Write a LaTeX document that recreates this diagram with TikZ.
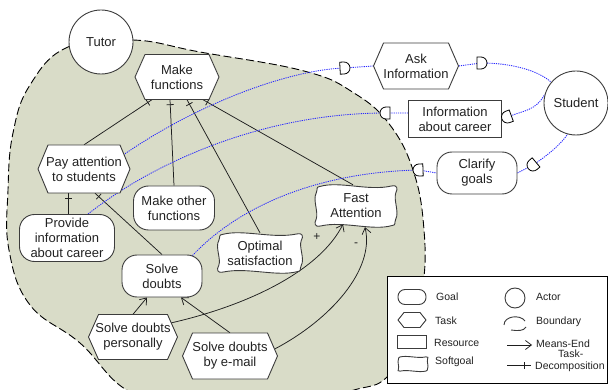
\documentclass[tikz,border=0pt]{standalone}
\usepackage{fontspec}
\setmainfont{Liberation Sans}
\usetikzlibrary{arrows.meta,decorations.markings,calc}
\definecolor{bfill}{RGB}{217,220,200}
\definecolor{edgec}{RGB}{60,60,60}
\definecolor{linkc}{RGB}{30,30,30}
\definecolor{depc}{RGB}{40,40,255}
\definecolor{txtc}{RGB}{34,34,34}
\pgfdeclarelayer{bg}
\pgfsetlayers{bg,main}
\newcommand\hexpath[5]{\draw[shapeline] (#1-#3/2,#2) -- (#1-#3/2+#5,#2-#4/2) -- (#1+#3/2-#5,#2-#4/2) -- (#1+#3/2,#2) -- (#1+#3/2-#5,#2+#4/2) -- (#1-#3/2+#5,#2+#4/2) -- cycle;}
\newcommand\sgpath[4]{\draw[shapeline, shift={(#1,#2)}, xscale=#3/2, yscale=#4/2]
 (-0.88,-0.93) .. controls (-0.4,-1.2) and (0.3,-0.7) .. (0.86,-0.95)
 .. controls (1.02,-1.02) and (1.02,-0.82) .. (0.97,-0.62)
 .. controls (0.91,-0.3) and (1.06,0.3) .. (0.97,0.62)
 .. controls (0.93,0.80) and (0.98,0.92) .. (0.88,0.93)
 .. controls (0.4,1.2) and (-0.3,0.7) .. (-0.86,0.95)
 .. controls (-1.02,1.02) and (-1.02,0.82) .. (-0.97,0.62)
 .. controls (-0.91,0.3) and (-1.06,-0.3) .. (-0.97,-0.62)
 .. controls (-0.93,-0.80) and (-0.98,-0.92) .. (-0.88,-0.93) -- cycle;}
\newcommand\tasknode[6]{\hexpath{#2}{#3}{#4}{#5}{10}\node[txt, minimum width=#4, minimum height=#5] (#1) at (#2,#3) {#6};}
\newcommand\softnode[6]{\sgpath{#2}{#3}{#4}{#5}\node[txt, minimum width=#4, minimum height=#5] (#1) at (#2,#3) {#6};}
\tikzset{
 txt/.style={inner sep=0pt, align=center, text=txtc, font=\fontsize{13}{15}\selectfont},
 shapeline/.style={draw=edgec, line width=0.9pt, fill=white},
 goal/.style={txt, shapeline, rounded corners=15pt},
 resource/.style={txt, shapeline},
 actor/.style={txt, shapeline, circle},
 boundary/.style={fill=bfill, draw=black, line width=0.9pt, dash pattern=on 8pt off 3.5pt},
 linkline/.style={draw=linkc, line width=0.75pt},
 dec/.style={linkline, postaction={decorate}, decoration={markings, mark=at position -5pt with {\draw[linkc, line width=0.8pt] (0pt,-3.5pt) -- (0pt,3.5pt);}}},
 ldec/.style={linkline, postaction={decorate}, decoration={markings, mark=at position -7pt with {\draw[linkc, line width=0.8pt] (0pt,-3.5pt) -- (0pt,3.5pt);}}},
 me/.style={linkline, -{Straight Barb[length=6pt,width=9pt]}},
 dep/.style={draw=depc, line width=0.85pt, dash pattern=on 1.2pt off 1pt},
 dmarkline/.style={draw=black, line width=0.8pt, fill=white},
 dmark/.pic={\draw[dmarkline] (-4,-6) -- (0,-6) arc[start angle=-90,end angle=90,radius=6] -- (-4,6) -- cycle;},
 lbl/.style={inner sep=0pt, text=txtc, font=\fontsize{10.5}{12}\selectfont},
 sign/.style={inner sep=0pt, text=txtc, font=\fontsize{12}{12}\selectfont},
}
\begin{document}
\begin{tikzpicture}[x=1pt,y=-1pt]
\useasboundingbox (0,0) rectangle (608,390);
\begin{pgfonlayer}{bg}
\fill[white] (0,0) rectangle (608,390);
\begin{scope}
\clip (0,0) rectangle (608,390);
\draw[boundary] plot[smooth cycle, tension=0.7] coordinates {(68,47) (133,40) (200,52) (304,71) (354,93) (390,125) (414,173) (424,230) (423,285) (410,335) (387,377) (354,390) (300,402) (200,408) (130,392) (80,343) (30,305) (9,250) (8,190) (13,133) (30,85)};
\end{scope}
\end{pgfonlayer}

% tasks
\tasknode{mf}{177}{77}{84}{45}{Make\\functions}
\tasknode{pay}{84}{169}{92}{48}{Pay attention\\to students}
\tasknode{ask}{416}{66}{85}{46}{Ask\\Information}
\tasknode{sdp}{133}{337}{89}{45}{Solve doubts\\personally}
\tasknode{sde}{230}{356}{95}{46}{Solve doubts\\by e-mail}
% resource, goals
\node[resource, minimum width=93, minimum height=37] (info) at (455,119) {Information\\about career};
\node[goal, minimum width=80, minimum height=42] (clar) at (477,173) {Clarify\\goals};
\node[goal, minimum width=81, minimum height=44] (mof) at (174,208) {Make other\\functions};
\node[goal, minimum width=95, minimum height=47] (prov) at (67,238) {Provide\\information\\about career};
\node[goal, minimum width=80, minimum height=42] (sd) at (162,276) {Solve\\doubts};
% softgoals
\softnode{opt}{260}{253}{85}{40}{Optimal\\satisfaction}
\softnode{fa}{356}{206}{82}{42}{Fast\\Attention}
% actors
\node[actor, minimum size=64] (tutor) at (101,42) {Tutor};
\node[actor, minimum size=64] (student) at (576,103) {Student};

\coordinate (dA1) at (344,68);
\coordinate (dA2) at (481,63);
\coordinate (dI1) at (386,113);
\coordinate (dI2) at (507.5,117);
\coordinate (dC1) at (419,170);
\coordinate (dC2) at (533,165);

\begin{pgfonlayer}{bg}
\draw[dec] (pay.north) -- ($(mf.south)+(-25,0)$);
\draw[dec] (mof.north) -- ($(mf.south)+(-7,0)$);
\draw[dec] (opt.north) -- ($(mf.south)+(10,0)$);
\draw[dec] ($(fa.north)+(-3,0)$) -- ($(mf.south)+(26,0)$);
\draw[dec] ($(prov.north)+(1,0)$) -- ($(pay.south)+(-16,0)$);
\draw[dec] (sd.north) -- ($(pay.south)+(11,0)$);
\draw[me] (sdp.north) -- ($(sd.south)+(-15,0)$);
\draw[me] (sde.north) -- ($(sd.south)+(19,0)$);
\draw[me] ($(sdp.east)+(-7,-14)$) .. controls (250,305) and (320,270) .. ($(fa.south)+(-13,-3)$);
\draw[me] ($(sde.east)+(-3,-7)$) .. controls (330,320) and (375,270) .. ($(fa.south)+(9,0)$);
\draw[dep] ($(pay.east)+(-7,-14)$) .. controls (200,102) and (290,70) .. (dA1) -- (ask.west);
\draw[dep] (ask.east) -- (dA2) .. controls (515,63) and (540,72) .. (student.140);
\draw[dep] ($(prov.north)+(21,0)$) .. controls (150,165) and (260,113) .. (dI1) -- ($(info.west)+(0,-6)$);
\draw[dep] (info.east) -- (dI2) .. controls (525,110) and (535,111) .. (student.165);
\draw[dep] ($(sd.north east)+(-10,1)$) .. controls (240,205) and (320,172) .. (dC1) -- (clar.west);
\draw[dep] (clar.east) -- (dC2) .. controls (548,155) and (560,145) .. (student.255);
\end{pgfonlayer}

\node[sign] (plus) at (317,237) {+};
\node[sign] (minus) at (356,245) {-};

\pic[rotate=3] at (dA1) {dmark};
\pic at (dA2) {dmark};
\pic[rotate=180] at (dI1) {dmark};
\pic[rotate=200] at (dI2) {dmark};
\pic[rotate=182] at (dC1) {dmark};
\pic[rotate=220] at (dC2) {dmark};

% legend
\node[draw=black, line width=1pt, fill=white, minimum width=220, minimum height=106, inner sep=0] (legend) at (497,330) {};
\node[shapeline, rounded corners=7pt, minimum width=28, minimum height=15, inner sep=0] (lgoal) at (412,297) {};
\hexpath{412}{320}{28}{15}{6}
\node[shapeline, minimum width=29, minimum height=13, inner sep=0] (lres) at (412,342) {};
\sgpath{413}{364}{30}{15}
\node[shapeline, circle, minimum size=20, inner sep=0] (lact) at (515,298) {};
\draw[edgec, line width=0.9pt] (504,325) .. controls (504,316) and (520,314) .. (525,321);
\draw[edgec, line width=0.9pt] (511,330) .. controls (518,331) and (524,331) .. (526,327);
\coordinate (me1) at (507,345);
\coordinate (me2) at (532,345);
\draw[me] (me1) -- (me2);
\coordinate (td1) at (507,365);
\coordinate (td2) at (531,365);
\draw[ldec] (td1) -- (td2);
\node[lbl, anchor=west] (lgoalt) at (436,297) {Goal};
\node[lbl, anchor=west] (ltaskt) at (435,321) {Task};
\node[lbl, anchor=west] (lrest) at (434,343) {Resource};
\node[lbl, anchor=west] (lsoftt) at (435,362) {Softgoal};
\node[lbl, anchor=west] (lactt) at (536,297) {Actor};
\node[lbl, anchor=west] (lbndt) at (536,322) {Boundary};
\node[lbl, anchor=west] (lmet) at (536,344) {Means-End};
\node[lbl, anchor=west] (ltd1) at (558,354) {Task-};
\node[lbl, anchor=west] (ltd2) at (535,367) {Decomposition};
\end{tikzpicture}
\end{document}
